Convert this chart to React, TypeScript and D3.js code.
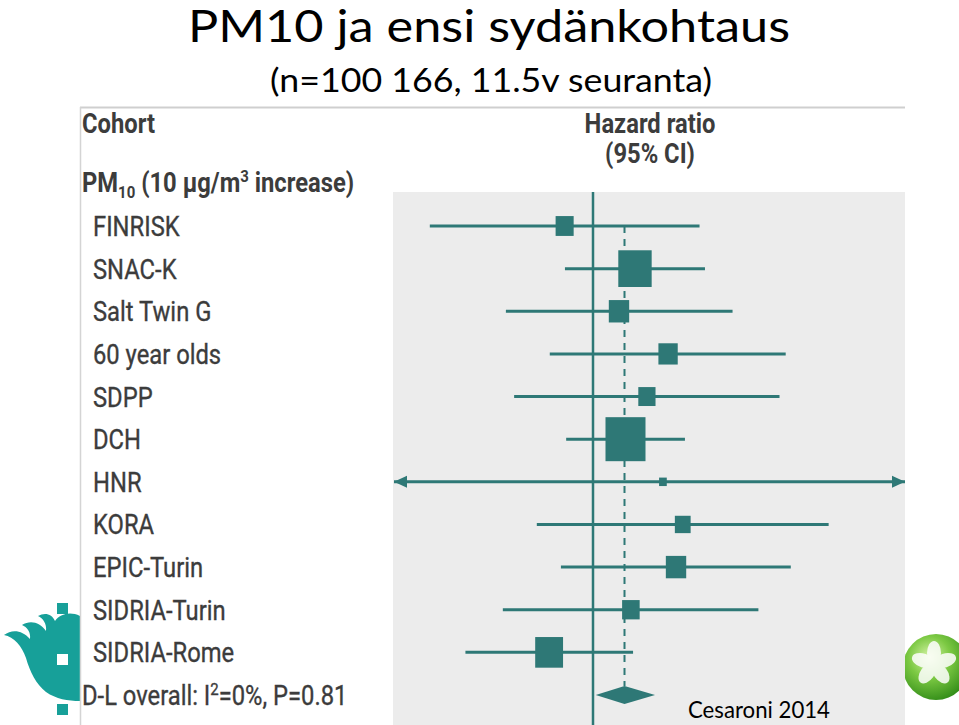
import React from "react";
import * as d3 from "d3";

const cohorts = ["FINRISK", "SNAC-K", "Salt Twin G", "60 year olds", "SDPP", "DCH", "HNR", "KORA", "EPIC-Turin", "SIDRIA-Turin", "SIDRIA-Rome"];
const hazardRatio = [0.903, 1.163, 1.098, 1.31, 1.214, 1.124, 1.286, 1.381, 1.348, 1.146, 0.854];
const ciLow = [0.556, 0.904, 0.731, 0.856, 0.753, 0.908, 0.25, 0.817, 0.891, 0.723, 0.632];
const ciHigh = [1.467, 1.496, 1.652, 2.0, 1.956, 1.392, 6.0, 2.334, 2.037, 1.813, 1.155];
const weights = [5.5, 18.8, 7.0, 6.3, 5.0, 27.0, 1.0, 4.2, 7.0, 5.2, 13.1];
const overall = { label: "D-L overall", hr: 1.12, lo: 1.01, hi: 1.25 };

const W = 959;
const H = 725;
const TEAL = "#2e7876";
const TEXT = "#3c3c3c";
const FONT = "Roboto, 'Noto Sans', sans-serif";
const SX = 0.88;

export default function App() {
  const rows = [...cohorts, overall.label];
  const y = d3.scalePoint<string>().domain(rows).range([226, 695]);
  const x = d3.scaleLog().domain([0.5, 2]).range([400.3, 785.7]);
  const size = d3.scaleSqrt().domain([0, 27]).range([0, 40]);
  const plotL = 393;
  const plotR = 905;
  const plotT = 192;
  const cx = (v: number) => Math.max(plotL + 1, Math.min(plotR, x(v)));

  const label = (txt: React.ReactNode, tx: number, ty: number, bold = false, anchor = "start") => (
    <text
      transform={`translate(${tx},${ty}) scale(${SX},1)`}
      fontFamily={FONT}
      fontSize={27}
      fontWeight={bold ? 700 : 400}
      fill={TEXT}
      stroke={bold ? "none" : TEXT}
      strokeWidth={bold ? 0 : 0.35}
      textAnchor={anchor}
    >
      {txt}
    </text>
  );

  const yo = y(overall.label)!;
  const dTop = yo - 9;

  return (
    <svg
      width={W}
      height={H}
      viewBox={`0 0 ${W} ${H}`}
      style={{ position: "absolute", left: 0, top: 0, display: "block", background: "#fff" }}
    >
      <defs>
        <radialGradient id="sph" cx="0.4" cy="0.35" r="0.7">
          <stop offset="0" stopColor="#d8f5a8" />
          <stop offset="0.45" stopColor="#7cc943" />
          <stop offset="1" stopColor="#2f8a16" />
        </radialGradient>
        <clipPath id="plotClip">
          <rect x={plotL} y={plotT} width={plotR - plotL} height={H - plotT} />
        </clipPath>
      </defs>

      {/* slide title */}
      <text x={489} y={42} textAnchor="middle" fontFamily="Lato, 'Open Sans', sans-serif" fontSize={44} fill="#000" textLength={602} lengthAdjust="spacingAndGlyphs">
        PM10 ja ensi sydänkohtaus
      </text>
      <text x={491} y={92} textAnchor="middle" fontFamily="Lato, 'Open Sans', sans-serif" fontSize={33} fill="#000" textLength={442} lengthAdjust="spacingAndGlyphs">
        (n=100 166, 11.5v seuranta)
      </text>

      {/* decorative green sphere */}
      <circle cx={936} cy={667} r={33} fill="url(#sph)" />
      <g fill="#fff" opacity={0.85}>
        {[0, 72, 144, 216, 288].map((a) => (
          <ellipse key={a} cx={934} cy={653} rx={7} ry={12} transform={`rotate(${a} 934 664)`} />
        ))}
      </g>

      {/* University logo */}
      <path
        d="M80 616 C70 611 60 614 55 621 C52 614 45 612 38 616 C43 618 47 624 46 631 C40 622 30 620 22 625 C27 627 31 632 30 639 C22 630 12 629 4 635 C14 637 22 646 26 658 C30 672 36 684 46 692 C56 699 68 701 80 701 Z"
        fill="#17a099"
      />
      <rect x={57} y={603} width={11} height={11} fill="#17a099" />
      <rect x={57} y={654} width={11} height={11} fill="#fff" />
      <rect x={57} y={704} width={11} height={11} fill="#17a099" />

      {/* figure panel */}
      <rect x={80} y={107} width={825} height={H - 107} fill="#fff" />
      <line x1={80} x2={905} y1={107.5} y2={107.5} stroke="#cfcfcf" strokeWidth={2} />
      <line x1={80.5} x2={80.5} y1={107} y2={H} stroke="#d4d4d4" strokeWidth={1.5} />
      <rect x={plotL} y={plotT} width={plotR - plotL} height={H - plotT} fill="#ececec" />

      {/* headers */}
      {label("Cohort", 82, 133, true)}
      {label("Hazard ratio", 650, 133, true, "middle")}
      {label("(95% CI)", 650, 163, true, "middle")}
      {label(
        <>
          PM<tspan fontSize={17} dy={6}>10</tspan>
          <tspan dy={-6}> (10 µg/m</tspan>
          <tspan fontSize={17} dy={-10}>3</tspan>
          <tspan dy={10}> increase)</tspan>
        </>,
        82,
        192,
        true
      )}

      {/* reference lines */}
      <line x1={x(1)} x2={x(1)} y1={plotT} y2={H} stroke={TEAL} strokeWidth={2.5} />
      <line
        x1={x(overall.hr)}
        x2={x(overall.hr)}
        y1={y(cohorts[0])!}
        y2={dTop}
        stroke={TEAL}
        strokeWidth={2}
        strokeDasharray="7 6"
      />

      {/* cohort rows */}
      {cohorts.map((c, i) => {
        const yy = y(c)!;
        const s = size(weights[i]);
        const x0 = cx(ciLow[i]);
        const x1 = cx(ciHigh[i]);
        const arrowL = x(ciLow[i]) < plotL;
        const arrowR = x(ciHigh[i]) > plotR;
        return (
          <g key={c}>
            {label(c, 93, yy + 10, false)}
            <g clipPath="url(#plotClip)">
              <line x1={x0} x2={x1} y1={yy} y2={yy} stroke={TEAL} strokeWidth={3} />
              {arrowL && <path d={`M${plotL + 1},${yy} l13,-6 l0,12 Z`} fill={TEAL} />}
              {arrowR && <path d={`M${plotR},${yy} l-13,-6 l0,12 Z`} fill={TEAL} />}
              <rect x={x(hazardRatio[i]) - s / 2} y={yy - (s * 1.1) / 2} width={s} height={s * 1.1} fill={TEAL} />
            </g>
          </g>
        );
      })}

      {/* overall */}
      {label(
        <>
          D-L overall: I<tspan fontSize={17} dy={-10}>2</tspan>
          <tspan dy={10}>=0%, P=0.81</tspan>
        </>,
        82,
        yo + 10,
        false
      )}
      <path
        d={`M${x(overall.lo)},${yo} L${x(overall.hr)},${yo - 9} L${x(overall.hi)},${yo} L${x(overall.hr)},${yo + 9} Z`}
        fill={TEAL}
      />

      {/* source */}
      <text x={688} y={718} fontFamily="Lato, 'Open Sans', sans-serif" fontSize={23} fill="#000" textLength={142} lengthAdjust="spacingAndGlyphs">
        Cesaroni 2014
      </text>
    </svg>
  );
}
